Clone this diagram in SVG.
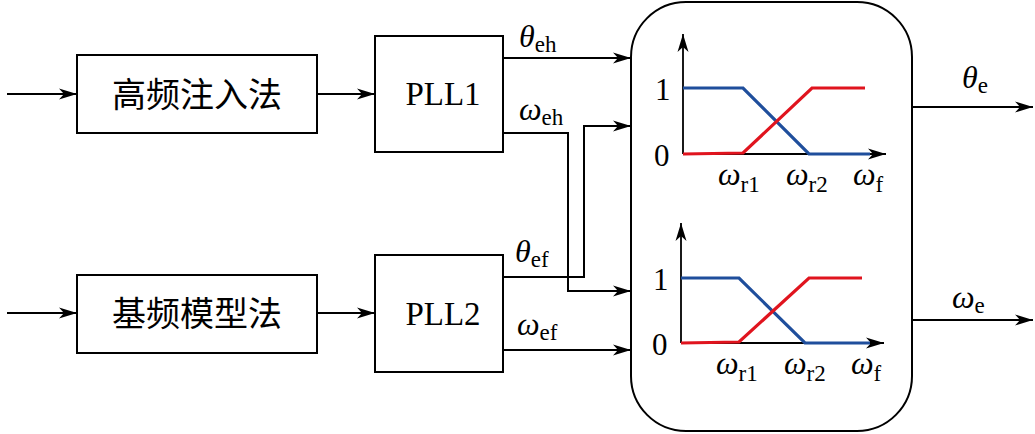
<svg xmlns="http://www.w3.org/2000/svg" width="1035" height="434" viewBox="0 0 1035 434">
<style>
.box{fill:#fff;stroke:#000;stroke-width:2}
.ln{fill:none;stroke:#000;stroke-width:2}
.ax{fill:none;stroke:#000;stroke-width:1.8}
.blue{fill:none;stroke:#1f4e9c;stroke-width:3.2}
.red{fill:none;stroke:#e0141e;stroke-width:3.2}
.cn{font-family:"Noto Sans CJK SC","Noto Sans CJK JP",serif;font-size:34px;text-anchor:middle}
.rm{font-family:"Liberation Serif",serif;font-size:33px}
.num{font-family:"Liberation Serif",serif;font-size:31px}
.gk{font-family:"Liberation Serif",serif;font-size:32px;font-style:italic}
.sb{font-family:"Liberation Serif",serif;font-size:23px;font-style:normal}
</style>
<defs>
<marker id="ar" markerUnits="userSpaceOnUse" markerWidth="20" markerHeight="12" refX="18" refY="6" orient="auto">
<path d="M0,0.5 L18,6 L0,11.5 L5,6 z" fill="#000"/>
</marker>
</defs>
<g id="connectors">
<line class="ln" x1="7" y1="94" x2="77" y2="94" marker-end="url(#ar)"/>
<line class="ln" x1="317" y1="94" x2="375" y2="94" marker-end="url(#ar)"/>
<line class="ln" x1="7" y1="313" x2="77" y2="313" marker-end="url(#ar)"/>
<line class="ln" x1="317" y1="313" x2="375" y2="313" marker-end="url(#ar)"/>
<line class="ln" x1="503" y1="58" x2="631" y2="58" marker-end="url(#ar)"/>
<polyline class="ln" points="503,133 568,133 568,291 631,291" marker-end="url(#ar)"/>
<polyline class="ln" points="503,277 584,277 584,126 631,126" marker-end="url(#ar)"/>
<line class="ln" x1="503" y1="350" x2="631" y2="350" marker-end="url(#ar)"/>
<line class="ln" x1="912" y1="107" x2="1033" y2="107" marker-end="url(#ar)"/>
<line class="ln" x1="912" y1="320" x2="1033" y2="320" marker-end="url(#ar)"/>
</g>
<g id="hf">
<rect class="box" x="77" y="55" width="240" height="78"/>
<text class="cn" x="197" y="107">高频注入法</text>
</g>
<g id="ff">
<rect class="box" x="77" y="275" width="240" height="78"/>
<text class="cn" x="197" y="326">基频模型法</text>
</g>
<g id="pll1">
<rect class="box" x="375" y="36" width="128" height="116"/>
<text class="rm" x="443" y="105" text-anchor="middle">PLL1</text>
</g>
<g id="pll2">
<rect class="box" x="375" y="255" width="128" height="117"/>
<text class="rm" x="443" y="325" text-anchor="middle">PLL2</text>
</g>
<g id="labels">
<text class="gk" x="519" y="47">θ<tspan class="sb" dy="5">eh</tspan></text>
<text class="gk" x="519" y="120">ω<tspan class="sb" dy="5">eh</tspan></text>
<text class="gk" x="515" y="262">θ<tspan class="sb" dy="5">ef</tspan></text>
<text class="gk" x="517" y="335">ω<tspan class="sb" dy="5">ef</tspan></text>
<text class="gk" x="962" y="88">θ<tspan class="sb" dy="5">e</tspan></text>
<text class="gk" x="952" y="308">ω<tspan class="sb" dy="5">e</tspan></text>
</g>
<g id="fuzzy">
<rect class="box" x="631" y="2" width="281" height="429" rx="55" ry="55"/>
<g id="plot1">
<polyline class="ax" points="683,154 683,34" marker-end="url(#ar)"/>
<polyline class="ax" points="683,154 886,154" marker-end="url(#ar)"/>
<polyline class="blue" points="683,88 743,88 809,154 870,154"/>
<polyline class="red" points="683,154 743,153 812,88 865,88"/>
<text class="num" x="655" y="100">1</text>
<text class="num" x="654" y="166">0</text>
<text class="gk" x="718" y="185">ω<tspan class="sb" dy="7">r1</tspan></text>
<text class="gk" x="786" y="185">ω<tspan class="sb" dy="7">r2</tspan></text>
<text class="gk" x="853" y="185">ω<tspan class="sb" dy="7">f</tspan></text>
</g>
<g id="plot2">
<polyline class="ax" points="681,343 681,223" marker-end="url(#ar)"/>
<polyline class="ax" points="681,343 884,343" marker-end="url(#ar)"/>
<polyline class="blue" points="681,278 739,278 805,343 870,343"/>
<polyline class="red" points="681,343 739,342 809,278 862,278"/>
<text class="num" x="653" y="290">1</text>
<text class="num" x="652" y="355">0</text>
<text class="gk" x="716" y="374">ω<tspan class="sb" dy="7">r1</tspan></text>
<text class="gk" x="784" y="374">ω<tspan class="sb" dy="7">r2</tspan></text>
<text class="gk" x="851" y="374">ω<tspan class="sb" dy="7">f</tspan></text>
</g>
</g>
</svg>
